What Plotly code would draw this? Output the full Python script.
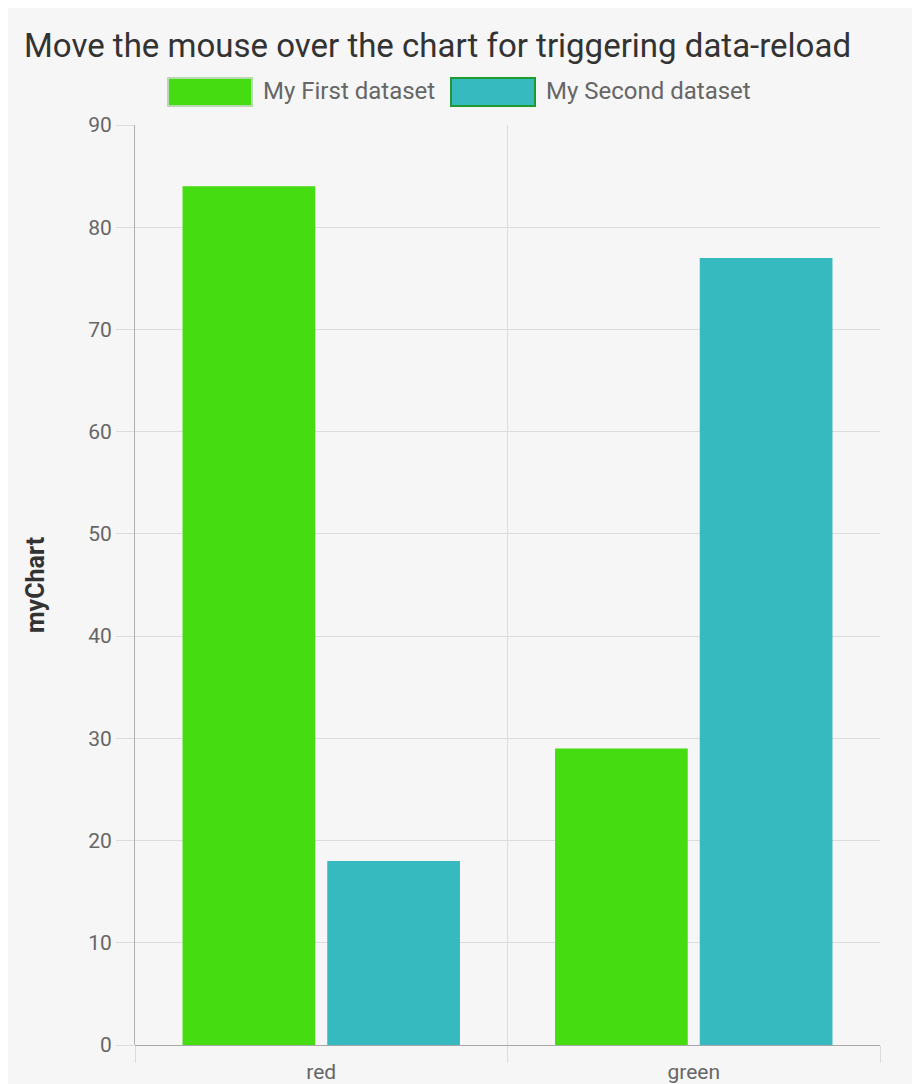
import plotly.graph_objects as go

# chart data
categories = ["red", "green"]
first_values = [84, 29]
second_values = [18, 77]
series_names = ["My First dataset", "My Second dataset"]
y_ticks = [0, 10, 20, 30, 40, 50, 60, 70, 80, 90]

# the page adds an 8px body margin, so the figure is a bit smaller than the window
W, H = 912, 1076
ML, MR, MT, MB = 127, 40, 117, 39
PW, PH = W - ML - MR, H - MT - MB


def px(x):
    return (x - ML) / PW


def py(y):
    return (H - MB - y) / PH


GREEN = "#45dd11"
CYAN = "#36b9bf"
FONT = "Roboto, Arial, sans-serif"

fig = go.Figure()
fig.add_trace(go.Bar(x=categories, y=first_values, name=series_names[0],
                     marker=dict(color=GREEN, line=dict(width=0))))
fig.add_trace(go.Bar(x=categories, y=second_values, name=series_names[1],
                     marker=dict(color=CYAN, line=dict(width=0))))

# custom legend with wide boxes like the original
shapes = [
    dict(type="rect", xref="paper", yref="paper",
         x0=px(160), x1=px(244), y0=py(98), y1=py(70),
         fillcolor=GREEN, line=dict(color="#b8d8b0", width=2)),
    dict(type="rect", xref="paper", yref="paper",
         x0=px(443), x1=px(527), y0=py(98), y1=py(70),
         fillcolor=CYAN, line=dict(color="#1e9a30", width=2)),
]
annotations = [
    dict(text=series_names[0], xref="paper", yref="paper", x=px(253), y=py(83),
         xanchor="left", yanchor="middle", showarrow=False,
         font=dict(size=24, color="#666", family=FONT)),
    dict(text=series_names[1], xref="paper", yref="paper", x=px(536), y=py(83),
         xanchor="left", yanchor="middle", showarrow=False,
         font=dict(size=24, color="#666", family=FONT)),
]

fig.update_layout(
    width=W, height=H,
    margin=dict(l=ML, r=MR, t=MT, b=MB, autoexpand=False),
    paper_bgcolor="#f6f6f6", plot_bgcolor="#f6f6f6",
    font=dict(family=FONT, color="#666"),
    title=dict(text="Move the mouse over the chart for triggering data-reload",
               x=16 / W, xanchor="left", y=1 - 37 / H, yanchor="middle",
               font=dict(size=33, color="#333", family=FONT)),
    showlegend=False,
    barmode="group", bargap=0.223, bargroupgap=0.083,
    shapes=shapes, annotations=annotations,
)
fig.update_xaxes(
    tickson="boundaries", ticks="outside", ticklen=17, tickcolor="#dcdcdc",
    showgrid=True, gridcolor="#dcdcdc", gridwidth=1,
    showline=False, tickfont=dict(size=21, color="#666"),
    ticklabelstandoff=12, automargin=False,
)
fig.update_yaxes(
    range=[0, 90], tickvals=y_ticks, ticks="outside", ticklen=18,
    tickcolor="#dcdcdc", showgrid=True, gridcolor="#dcdcdc",
    showline=True, linecolor="#b0b0b0", linewidth=1,
    zeroline=True, zerolinecolor="#a8a8a8", zerolinewidth=1,
    tickfont=dict(size=21, color="#666"), automargin=False,
    title=dict(text="<b>myChart</b>", standoff=36,
               font=dict(size=25, color="#333", family=FONT)),
)

fig.write_html("out.html")
